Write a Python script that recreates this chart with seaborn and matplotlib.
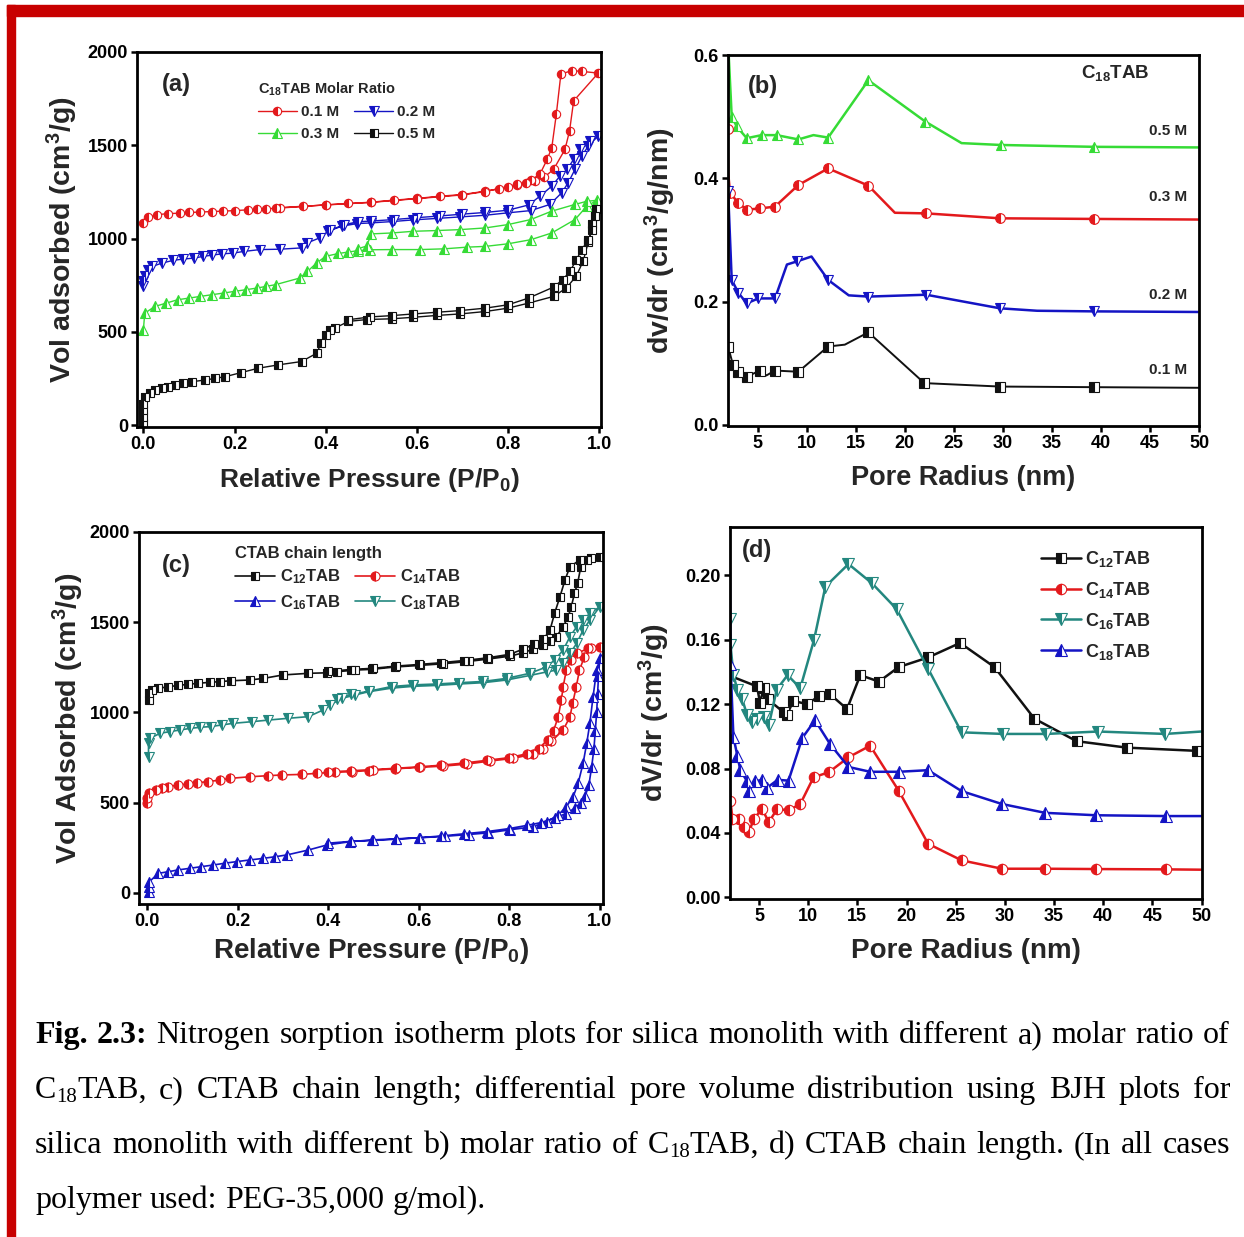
import numpy as np
import pandas as pd
import matplotlib
matplotlib.use("Agg")
import matplotlib.pyplot as plt
import seaborn as sns
from matplotlib.lines import Line2D
from matplotlib.patches import Rectangle

# ---------------- (a) N2 isotherms, C18TAB molar ratio ----------------
a01_ads_p = [0.0, 0.01, 0.03, 0.055, 0.08, 0.10, 0.125, 0.15, 0.175, 0.20, 0.23, 0.25, 0.27, 0.29, 0.35,
             0.40, 0.45, 0.50, 0.55, 0.60, 0.65, 0.70, 0.75, 0.80, 0.82, 0.84, 0.86, 0.88, 0.90, 0.925,
             0.935, 0.944, 0.998]
a01_ads_v = [1085, 1115, 1128, 1134, 1136, 1140, 1142, 1145, 1147, 1150, 1154, 1157, 1160, 1162, 1172,
             1181, 1188, 1195, 1206, 1215, 1227, 1236, 1254, 1275, 1287, 1297, 1308, 1330, 1371, 1478,
             1577, 1738, 1887]
a01_des_p = [0.962, 0.94, 0.916, 0.906, 0.896, 0.886, 0.87, 0.85, 0.82, 0.78, 0.75, 0.70, 0.60, 0.50, 0.40, 0.30]
a01_des_v = [1896, 1900, 1882, 1667, 1487, 1425, 1345, 1312, 1290, 1268, 1252, 1234, 1214, 1194, 1180, 1166]

a02_ads_p = [0.0, 0.0, 0.003, 0.01, 0.02, 0.04, 0.065, 0.087, 0.11, 0.13, 0.15, 0.172, 0.197, 0.22, 0.256,
             0.30, 0.347, 0.36, 0.387, 0.405, 0.435, 0.468, 0.50, 0.545, 0.592, 0.644, 0.695, 0.75, 0.80,
             0.85, 0.892, 0.918, 0.932, 0.947, 0.962, 0.976, 0.998]
a02_ads_v = [745, 775, 800, 830, 851, 868, 883, 890, 895, 904, 911, 918, 922, 931, 941,
             943, 950, 977, 1004, 1039, 1066, 1080, 1084, 1091, 1100, 1108, 1116, 1125, 1138,
             1150, 1183, 1246, 1299, 1371, 1442, 1496, 1550]
a02_des_p = [0.98, 0.958, 0.944, 0.93, 0.914, 0.896, 0.87, 0.845, 0.80, 0.75, 0.70, 0.65, 0.60, 0.55, 0.50,
             0.47, 0.44, 0.41]
a02_des_v = [1523, 1478, 1425, 1371, 1335, 1281, 1227, 1180, 1152, 1140, 1131, 1121, 1112, 1102, 1094,
             1090, 1074, 1045]

a03_ads_p = [0.0, 0.003, 0.025, 0.05, 0.075, 0.10, 0.125, 0.15, 0.176, 0.20, 0.225, 0.25, 0.27, 0.29, 0.344,
             0.36, 0.38, 0.40, 0.428, 0.45, 0.47, 0.497, 0.545, 0.607, 0.66, 0.71, 0.75, 0.80, 0.85, 0.896,
             0.947, 0.973, 0.995]
a03_ads_v = [511, 600, 636, 654, 672, 681, 690, 699, 708, 717, 726, 735, 744, 753, 789,
             824, 869, 905, 920, 928, 935, 940, 941, 941, 945, 954, 958, 972, 994, 1030,
             1102, 1174, 1205]
a03_des_p = [0.973, 0.947, 0.896, 0.85, 0.80, 0.75, 0.695, 0.644, 0.592, 0.545, 0.50, 0.49, 0.47]
a03_des_v = [1200, 1183, 1147, 1102, 1075, 1057, 1048, 1043, 1039, 1030, 1025, 960, 945]

a05_ads_p = [0.0, 0.0, 0.0, 0.0, 0.003, 0.014, 0.025, 0.04, 0.054, 0.07, 0.088, 0.107, 0.136, 0.158, 0.18,
             0.215, 0.252, 0.296, 0.347, 0.38, 0.39, 0.40, 0.41, 0.42, 0.45, 0.49, 0.545, 0.592, 0.644,
             0.695, 0.75, 0.80, 0.845, 0.90, 0.928, 0.95, 0.965, 0.976, 0.985, 0.993]
a05_ads_v = [10, 45, 80, 115, 150, 170, 188, 197, 206, 215, 224, 233, 242, 251, 260,
             282, 305, 323, 341, 385, 439, 484, 511, 520, 556, 566, 570, 578, 588,
             596, 609, 627, 654, 690, 735, 800, 880, 980, 1080, 1160]
a05_des_p = [0.99, 0.985, 0.976, 0.962, 0.95, 0.936, 0.92, 0.90, 0.845, 0.80, 0.75, 0.695, 0.644, 0.592,
             0.545, 0.497, 0.45]
a05_des_v = [1120, 1048, 994, 941, 887, 824, 780, 740, 681, 645, 627, 614, 605, 596, 587, 580, 565]

# ---------------- (b) BJH, C18TAB molar ratio ----------------
b05_r = [2.0, 2.37, 2.88, 3.9, 5.43, 6.95, 9.16, 10.7, 12.2, 16.3, 22.1, 25.8, 29.8, 39.3, 50.0]
b05_v = [0.62, 0.50, 0.484, 0.465, 0.47, 0.47, 0.463, 0.47, 0.466, 0.559, 0.492, 0.457, 0.454, 0.451, 0.45]
b03_r = [1.94, 2.0, 2.2, 3.05, 3.9, 5.25, 6.78, 9.16, 12.2, 16.3, 19.0, 22.2, 29.7, 39.3, 50.0]
b03_v = [0.48, 0.41, 0.376, 0.36, 0.349, 0.351, 0.354, 0.389, 0.416, 0.388, 0.344, 0.343, 0.335, 0.334, 0.333]
b02_r = [2.0, 2.37, 3.05, 3.9, 5.08, 6.78, 8.0, 9.0, 10.5, 12.2, 14.3, 16.3, 22.2, 29.7, 33.5, 39.3, 50.0]
b02_v = [0.38, 0.235, 0.214, 0.197, 0.205, 0.205, 0.26, 0.265, 0.273, 0.235, 0.21, 0.208, 0.211, 0.189,
         0.185, 0.184, 0.183]
b01_r = [2.0, 2.5, 3.05, 3.9, 5.25, 5.9, 6.78, 9.16, 12.2, 13.9, 16.3, 22.0, 29.7, 39.3, 50.0]
b01_v = [0.127, 0.097, 0.086, 0.078, 0.088, 0.08, 0.088, 0.086, 0.127, 0.13, 0.15, 0.0676, 0.062, 0.061, 0.06]
# line vertices drawn without a symbol
b05_plain = [2.0, 10.7, 25.8, 50.0]
b03_plain = [2.0, 19.0, 50.0]
b02_plain = [8.0, 10.5, 14.3, 33.5, 50.0]
b01_plain = [5.9, 13.9, 50.0]

# ---------------- (c) N2 isotherms, CTAB chain length ----------------
c12_ads_p = [0.003, 0.003, 0.01, 0.025, 0.047, 0.069, 0.09, 0.113, 0.138, 0.16, 0.186, 0.227, 0.257, 0.30,
             0.356, 0.398, 0.42, 0.459, 0.496, 0.547, 0.603, 0.654, 0.71, 0.753, 0.801, 0.83, 0.853, 0.875,
             0.89, 0.904, 0.919, 0.93, 0.937, 0.944, 0.951, 0.958, 0.972, 1.0]
c12_ads_v = [1069, 1106, 1125, 1134, 1143, 1150, 1156, 1162, 1167, 1171, 1176, 1180, 1189, 1208,
             1217, 1220, 1226, 1235, 1239, 1252, 1261, 1270, 1283, 1296, 1312, 1330, 1352, 1372,
             1395, 1420, 1475, 1531, 1586, 1660, 1716, 1808, 1845, 1860]
c12_des_p = [0.98, 0.956, 0.934, 0.923, 0.912, 0.90, 0.89, 0.875, 0.855, 0.83, 0.80, 0.75, 0.70, 0.65,
             0.60, 0.55, 0.50, 0.45, 0.40]
c12_des_v = [1854, 1845, 1808, 1734, 1642, 1549, 1457, 1405, 1380, 1350, 1322, 1302, 1288, 1276,
             1266, 1257, 1245, 1238, 1228]

c14_ads_p = [0.0, 0.0, 0.003, 0.02, 0.033, 0.047, 0.069, 0.09, 0.11, 0.135, 0.161, 0.183, 0.227, 0.268,
             0.298, 0.342, 0.375, 0.415, 0.452, 0.489, 0.547, 0.603, 0.654, 0.706, 0.757, 0.809, 0.853,
             0.875, 0.893, 0.919, 0.934, 0.94, 0.948, 0.955, 0.966, 0.981, 1.0]
c14_ads_v = [500, 524, 552, 570, 580, 589, 598, 604, 611, 617, 626, 635, 644, 650,
             654, 657, 663, 669, 672, 678, 688, 696, 703, 714, 731, 746, 770,
             800, 840, 903, 976, 1051, 1143, 1235, 1309, 1355, 1364]
c14_des_p = [0.974, 0.95, 0.936, 0.926, 0.919, 0.915, 0.908, 0.898, 0.885, 0.865, 0.84, 0.80, 0.75, 0.70,
             0.65, 0.60, 0.55, 0.50, 0.45, 0.40]
c14_des_v = [1355, 1328, 1290, 1235, 1143, 1069, 976, 900, 850, 800, 772, 750, 735, 720,
             708, 699, 691, 684, 677, 671]

c16_ads_p = [0.003, 0.003, 0.005, 0.025, 0.047, 0.069, 0.095, 0.12, 0.146, 0.172, 0.198, 0.227, 0.257,
             0.283, 0.309, 0.356, 0.397, 0.448, 0.496, 0.55, 0.603, 0.658, 0.71, 0.753, 0.801, 0.853,
             0.883, 0.908, 0.926, 0.941, 0.952, 0.963, 0.971, 0.978, 0.985, 0.993, 1.0]
c16_ads_v = [5, 35, 63, 109, 118, 128, 137, 146, 155, 165, 174, 183, 192,
             201, 211, 238, 266, 284, 294, 300, 306, 314, 324, 333, 350, 367,
             395, 432, 478, 533, 607, 718, 829, 940, 1087, 1235, 1300]
c16_des_p = [0.997, 0.995, 0.993, 0.99, 0.987, 0.982, 0.976, 0.968, 0.958, 0.945, 0.925, 0.90, 0.87,
             0.84, 0.80, 0.75, 0.70, 0.65, 0.60, 0.55, 0.50, 0.45, 0.40]
c16_des_v = [1200, 1100, 1000, 900, 800, 700, 600, 540, 500, 470, 440, 415, 390,
             375, 357, 340, 328, 316, 306, 298, 291, 286, 276]

c18_ads_p = [0.003, 0.003, 0.006, 0.029, 0.05, 0.072, 0.095, 0.117, 0.14, 0.165, 0.19, 0.231, 0.268,
             0.312, 0.356, 0.389, 0.404, 0.43, 0.459, 0.489, 0.54, 0.588, 0.64, 0.69, 0.742, 0.794,
             0.845, 0.883, 0.904, 0.919, 0.934, 0.949, 0.963, 0.978, 1.0]
c18_ads_v = [755, 829, 857, 885, 894, 903, 912, 918, 922, 931, 940, 949, 958,
             968, 977, 1014, 1042, 1078, 1097, 1115, 1135, 1145, 1150, 1158, 1165, 1180,
             1205, 1225, 1235, 1272, 1328, 1383, 1457, 1512, 1586]
c18_des_p = [0.978, 0.963, 0.949, 0.934, 0.919, 0.90, 0.88, 0.845, 0.794, 0.742, 0.69, 0.64, 0.588,
             0.54, 0.49, 0.45, 0.42]
c18_des_v = [1549, 1512, 1475, 1420, 1346, 1290, 1250, 1217, 1189, 1172, 1165, 1158, 1153,
             1144, 1118, 1100, 1075]

# ---------------- (d) BJH, CTAB chain length ----------------
d12_r = [2.3, 4.8, 5.1, 5.5, 5.9, 7.5, 7.8, 8.5, 9.9, 11.1, 12.25, 13.95, 15.3, 17.2, 19.2, 22.2, 25.45,
         28.95, 33.0, 37.3, 42.4, 49.5]
d12_v = [0.137, 0.131, 0.121, 0.130, 0.123, 0.115, 0.113, 0.122, 0.120, 0.125, 0.126, 0.117, 0.138, 0.134,
         0.143, 0.149, 0.158, 0.143, 0.111, 0.097, 0.093, 0.091]
d14_r = [2.0, 2.1, 2.3, 2.95, 3.45, 3.95, 4.5, 5.3, 6.0, 6.85, 8.0, 9.2, 10.55, 12.1, 14.1, 16.3, 19.2,
         22.2, 25.6, 29.7, 34.1, 39.3, 46.4, 50.0]
d14_v = [0.0715, 0.060, 0.0488, 0.0488, 0.0436, 0.0405, 0.0488, 0.055, 0.0467, 0.055, 0.054, 0.058, 0.0746,
         0.0777, 0.087, 0.0942, 0.0663, 0.0333, 0.023, 0.0178, 0.0178, 0.0176, 0.0174, 0.0172]
d16_r = [2.0, 2.1, 2.4, 2.8, 3.3, 3.8, 4.3, 4.8, 5.5, 6.0, 6.8, 7.9, 9.2, 10.6, 11.75, 14.1, 16.5, 19.0,
         22.2, 25.6, 29.8, 34.2, 39.5, 46.3, 50.0]
d16_v = [0.173, 0.157, 0.138, 0.129, 0.123, 0.113, 0.109, 0.111, 0.112, 0.107, 0.129, 0.138, 0.130, 0.160,
         0.193, 0.207, 0.195, 0.179, 0.142, 0.1025, 0.1015, 0.1015, 0.103, 0.1015, 0.103]
d18_r = [2.0, 2.1, 2.4, 2.8, 3.1, 3.8, 3.95, 4.6, 5.3, 5.8, 6.9, 8.0, 9.4, 10.7, 12.25, 14.1, 16.3, 19.2,
         22.2, 25.6, 29.7, 34.1, 39.3, 46.4, 50.0]
d18_v = [0.235, 0.145, 0.0995, 0.088, 0.079, 0.072, 0.066, 0.072, 0.073, 0.068, 0.073, 0.0725, 0.099, 0.110,
         0.095, 0.081, 0.078, 0.078, 0.079, 0.066, 0.058, 0.0525, 0.051, 0.0505, 0.0505]
d12_plain = [2.3]
d14_plain = [2.0, 50.0]
d16_plain = [50.0]
d18_plain = [2.0, 50.0]

caption_lines = [
    "Fig. 2.3: Nitrogen sorption isotherm plots for silica monolith with different a) molar ratio of",
    "C18TAB, c) CTAB chain length; differential pore volume distribution using BJH plots for",
    "silica monolith with different b) molar ratio of C18TAB, d) CTAB chain length. (In all cases",
    "polymer used: PEG-35,000 g/mol).",
]

RED = "#E3191C"
GREEN = "#36DB36"
BLUE = "#1414C4"
TEAL = "#23877F"
BLACK = "#111111"

sns.set_theme(style="ticks")
plt.rcParams["font.family"] = ["Liberation Sans", "DejaVu Sans"]
plt.rcParams["font.weight"] = "bold"
plt.rcParams["axes.labelweight"] = "bold"
plt.rcParams["mathtext.fontset"] = "custom"
plt.rcParams["mathtext.bf"] = "Liberation Sans:bold"
plt.rcParams["mathtext.rm"] = "Liberation Sans:bold"
plt.rcParams["mathtext.it"] = "Liberation Sans:bold:italic"
plt.rcParams["mathtext.default"] = "bf"

W, H = 1244, 1237
fig = plt.figure(figsize=(W / 100, H / 100), dpi=100)
fig.patch.set_facecolor("white")


def px_axes(left, top, right, bottom):
    return fig.add_axes([left / W, 1 - bottom / H, (right - left) / W, (bottom - top) / H])


def draw(ax, x, y, color, marker, ms, lw, plain=()):
    df = pd.DataFrame({"x": x, "y": y})
    keep = [i for i, v in enumerate(x) if v not in plain]
    style = dict(color=color, marker=marker, markersize=ms, fillstyle="left",
                 markerfacecolor=color, markerfacecoloralt="white",
                 markeredgecolor=color, markeredgewidth=0.8)
    sns.lineplot(data=df, x="x", y="y", sort=False, estimator=None, legend=False, ax=ax,
                 linewidth=lw, markevery=keep, **style)
    return Line2D([], [], linewidth=lw, **style)


def finish(ax, xlim, ylim, xticks, yticks, xfmt, yfmt, xlabel, ylabel, xl_pos, yl_pos, xl_size, yl_size):
    ax.set_xlim(*xlim)
    ax.set_ylim(*ylim)
    ax.set_xticks(xticks)
    ax.set_yticks(yticks)
    ax.set_xticklabels([xfmt.format(t) for t in xticks])
    ax.set_yticklabels([yfmt.format(t) for t in yticks])
    for s in ax.spines.values():
        s.set_visible(True)
        s.set_linewidth(2.0)
        s.set_color("black")
    ax.tick_params(direction="out", length=4.5, width=1.8, labelsize=13, pad=2, colors="black")
    ax.set_xlabel(xlabel, fontsize=xl_size, va="center")
    ax.set_ylabel(ylabel, fontsize=yl_size, va="center")
    ax.xaxis.set_label_coords(0.5, xl_pos)
    ax.yaxis.set_label_coords(yl_pos, 0.5)
    ax.set_facecolor("white")


# ---------- panel (a)
ax_a = px_axes(137, 52, 601, 427)
h01 = draw(ax_a, a01_ads_p + a01_des_p, a01_ads_v + a01_des_v, RED, "o", 6, 1.0)
h02 = draw(ax_a, a02_ads_p + a02_des_p, a02_ads_v + a02_des_v, BLUE, "v", 6.5, 1.0)
h03 = draw(ax_a, a03_ads_p + a03_des_p, a03_ads_v + a03_des_v, GREEN, "^", 6.5, 1.0)
h05 = draw(ax_a, a05_ads_p + a05_des_p, a05_ads_v + a05_des_v, BLACK, "s", 5.5, 1.0)
finish(ax_a, (-0.014, 1.004), (-10, 2000), [0, 0.2, 0.4, 0.6, 0.8, 1.0], [0, 500, 1000, 1500, 2000],
       "{:.1f}", "{:.0f}", "Relative Pressure (P/P$_0$)", "Vol adsorbed (cm$^3$/g)", -0.14, -0.16, 19, 20.5)
ax_a.text(0.084, 0.912, "(a)", transform=ax_a.transAxes, fontsize=17, ha="center", va="center")
ax_a.legend([h01, h03, h02, h05], ["0.1 M", "0.3 M", "0.2 M", "0.5 M"], ncol=2,
            title="C$_{18}$TAB Molar Ratio", title_fontsize=10.5, fontsize=11, frameon=False,
            loc="upper left", bbox_to_anchor=(0.245, 0.945), borderpad=0, handlelength=2.5,
            handletextpad=0.3, columnspacing=1.0, labelspacing=0.5, alignment="left")

# ---------- panel (b)
ax_b = px_axes(727.5, 55, 1199, 426)
draw(ax_b, b05_r, b05_v, GREEN, "^", 7.5, 1.8, b05_plain)
draw(ax_b, b03_r, b03_v, RED, "o", 7, 1.8, b03_plain)
draw(ax_b, b02_r, b02_v, BLUE, "v", 7.5, 1.8, b02_plain)
draw(ax_b, b01_r, b01_v, BLACK, "s", 6.5, 1.4, b01_plain)
finish(ax_b, (1.94, 50.0), (-0.002, 0.6), list(range(5, 51, 5)), [0.0, 0.2, 0.4, 0.6],
       "{:d}", "{:.1f}", "Pore Radius (nm)", "dv/dr (cm$^3$/g/nm)", -0.14, -0.143, 19.5, 20.5)
ax_b.text(0.075, 0.914, "(b)", transform=ax_b.transAxes, fontsize=17, ha="center", va="center")
ax_b.text(0.822, 0.951, "C$_{18}$TAB", transform=ax_b.transAxes, fontsize=13.5, ha="center", va="center")
for lab, yv in [("0.5 M", 0.477), ("0.3 M", 0.370), ("0.2 M", 0.211), ("0.1 M", 0.089)]:
    ax_b.text(48.8, yv, lab, fontsize=11, ha="right", va="center")

# ---------- panel (c)
ax_c = px_axes(139, 532, 603, 904)
h12 = draw(ax_c, c12_ads_p + c12_des_p, c12_ads_v + c12_des_v, BLACK, "s", 6, 1.2)
h14 = draw(ax_c, c14_ads_p + c14_des_p, c14_ads_v + c14_des_v, RED, "o", 6.5, 1.2)
h16 = draw(ax_c, c16_ads_p + c16_des_p, c16_ads_v + c16_des_v, BLUE, "^", 7, 1.2)
h18 = draw(ax_c, c18_ads_p + c18_des_p, c18_ads_v + c18_des_v, TEAL, "v", 7, 1.2)
finish(ax_c, (-0.018, 1.007), (-61, 2000), [0, 0.2, 0.4, 0.6, 0.8, 1.0], [0, 500, 1000, 1500, 2000],
       "{:.1f}", "{:.0f}", "Relative Pressure (P/P$_0$)", "Vol Adsorbed (cm$^3$/g)", -0.127, -0.153, 20, 20.5)
ax_c.text(0.08, 0.909, "(c)", transform=ax_c.transAxes, fontsize=17, ha="center", va="center")
ax_c.legend([h12, h16, h14, h18], ["C$_{12}$TAB", "C$_{16}$TAB", "C$_{14}$TAB", "C$_{18}$TAB"], ncol=2,
            title="CTAB chain length", title_fontsize=12, fontsize=12, frameon=False,
            loc="upper left", bbox_to_anchor=(0.19, 0.985), borderpad=0, handlelength=2.4,
            handletextpad=0.3, columnspacing=0.8, labelspacing=0.4, alignment="left")

# ---------- panel (d)
ax_d = px_axes(729.5, 527, 1202, 899)
k12 = draw(ax_d, d12_r, d12_v, BLACK, "s", 7, 1.8, d12_plain)
k14 = draw(ax_d, d14_r, d14_v, RED, "o", 7.5, 1.8, d14_plain)
k16 = draw(ax_d, d16_r, d16_v, TEAL, "v", 8, 1.8, d16_plain)
k18 = draw(ax_d, d18_r, d18_v, BLUE, "^", 8, 1.8, d18_plain)
finish(ax_d, (2.0, 50.05), (-0.001, 0.23), list(range(5, 51, 5)), [0.0, 0.04, 0.08, 0.12, 0.16, 0.20],
       "{:d}", "{:.2f}", "Pore Radius (nm)", "dV/dr (cm$^3$/g)", -0.14, -0.158, 20, 20.5)
ax_d.text(0.058, 0.938, "(d)", transform=ax_d.transAxes, fontsize=17, ha="center", va="center")
ax_d.legend([k12, k14, k16, k18], ["C$_{12}$TAB", "C$_{14}$TAB", "C$_{16}$TAB", "C$_{18}$TAB"],
            fontsize=13, frameon=False, loc="upper left", bbox_to_anchor=(0.64, 0.965), borderpad=0,
            handlelength=2.2, handletextpad=0.25, labelspacing=0.6)

# ---------- red page border
fig.add_artist(Rectangle((7 / W, 1 - 16 / H), 1 - 7 / W, 11 / H, transform=fig.transFigure,
                         color="#C80000", zorder=20))
fig.add_artist(Rectangle((7 / W, 0), 8 / W, 1 - 5 / H, transform=fig.transFigure,
                         color="#C80000", zorder=20))

# ---------- caption, justified
renderer = fig.canvas.get_renderer()
cap_size = 23
x_left, x_right = 35, 1230
baselines = [1043, 1098, 1153, 1208]


def measure(s, fs, weight):
    t = fig.text(0, 0, s, fontsize=fs, family="Liberation Serif", weight=weight, va="baseline", ha="left",
                 color="black")
    return t, t.get_window_extent(renderer).width


tmp, w_xx = measure("xx", cap_size, "normal")
tmp2, w_x_x = measure("x x", cap_size, "normal")
space_w = w_x_x - w_xx
tmp.remove()
tmp2.remove()

for li, line in enumerate(caption_lines):
    words = line.split(" ")
    built = []
    for wi, word in enumerate(words):
        weight = "bold" if (li == 0 and wi < 2) else "normal"
        if word.startswith("C18"):
            segs = [("C", cap_size, 0), ("18", 15, 4), (word[3:], cap_size, 0)]
        else:
            segs = [(word, cap_size, 0)]
        parts = []
        for s, fs, dy in segs:
            t, w = measure(s, fs, weight)
            parts.append((t, w, dy))
        built.append(parts)
    total = sum(w for parts in built for _, w, _ in parts)
    if li < len(caption_lines) - 1:
        gap = (x_right - x_left - total) / (len(built) - 1)
    else:
        gap = space_w
    x = x_left
    for parts in built:
        for t, w, dy in parts:
            t.set_position((x / W, 1 - (baselines[li] + dy) / H))
            x += w
        x += gap

fig.savefig("out.png", dpi=100)
